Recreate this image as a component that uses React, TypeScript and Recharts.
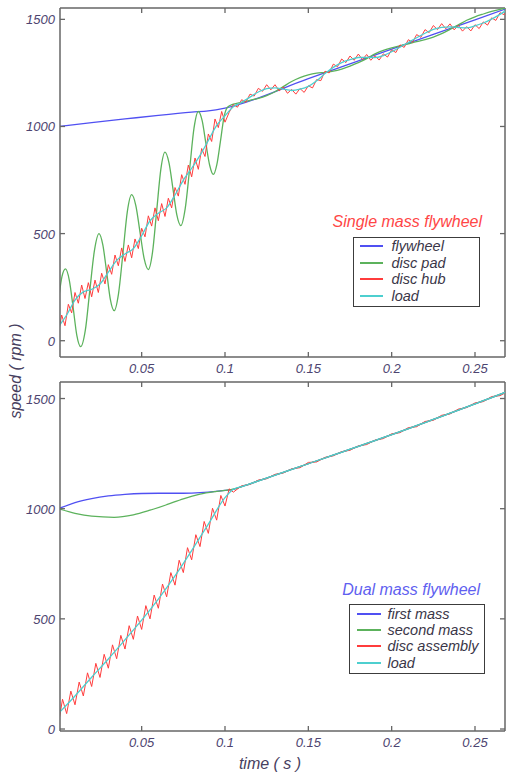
import React from 'react';
import { LineChart, Line, XAxis, YAxis, Legend, ReferenceLine, Label } from 'recharts';

// ---------- shared ticks / domains ----------
const X_TICKS = [0.05, 0.1, 0.15, 0.2, 0.25];
const Y_TICKS = [0, 500, 1000, 1500];
const X_DOMAIN = [0.001, 0.268];
const TOP_Y_DOMAIN = [-76, 1553];
const BOT_Y_DOMAIN = [-9, 1575];

// ---------- Single mass flywheel ----------
const topFlywheelT = [0, 0.02, 0.04, 0.06, 0.08, 0.09, 0.1, 0.15, 0.2, 0.25, 0.27];
const topFlywheelV = [1000, 1018, 1035, 1052, 1067, 1073, 1086, 1223, 1361, 1498, 1553];

const topPadT = [
  0, 0.0022, 0.0043, 0.0066, 0.0089, 0.0111, 0.0134, 0.0162, 0.0189, 0.0217, 0.0244,
  0.0267, 0.029, 0.0312, 0.0335, 0.0361, 0.0388, 0.0414, 0.044, 0.0465, 0.049, 0.0515,
  0.054, 0.0565, 0.059, 0.0615, 0.064, 0.0664, 0.0688, 0.0711, 0.0735, 0.0761, 0.0788,
  0.0814, 0.084, 0.0863, 0.0885, 0.0908, 0.093, 0.0951, 0.0973, 0.0994, 0.1015,
  0.105, 0.11, 0.115, 0.12, 0.125, 0.13, 0.135, 0.14, 0.145, 0.15, 0.155, 0.16, 0.165,
  0.17, 0.175, 0.18, 0.185, 0.19, 0.195, 0.2, 0.205, 0.21, 0.215, 0.22, 0.225, 0.23,
  0.235, 0.24, 0.245, 0.25, 0.255, 0.26, 0.265, 0.27,
];
const topPadV = [
  180, 300, 335, 282, 154, 25, -28, 49, 236, 423, 500,
  447, 320, 193, 140, 219, 411, 603, 682, 631, 507, 383,
  332, 412, 606, 800, 880, 830, 708, 587, 537, 615, 803,
  992, 1070, 1027, 923, 819, 776, 822, 933, 1044, 1090,
  1104, 1113, 1122, 1131, 1144, 1162, 1186, 1210, 1228, 1241, 1249, 1253, 1258,
  1268, 1282, 1298, 1317, 1339, 1355, 1367, 1376, 1386, 1396, 1405, 1417, 1433,
  1453, 1474, 1496, 1512, 1525, 1537, 1547, 1555,
];

const topHubT = [
  0, 0.002, 0.004, 0.006, 0.008, 0.01, 0.012, 0.014, 0.016, 0.018, 0.02,
  0.022, 0.024, 0.026, 0.028, 0.03, 0.032, 0.034, 0.036, 0.038, 0.04,
  0.042, 0.044, 0.046, 0.048, 0.05, 0.052, 0.054, 0.056, 0.058, 0.06,
  0.062, 0.064, 0.066, 0.068, 0.07, 0.072, 0.074, 0.076, 0.078, 0.08,
  0.082, 0.084, 0.086, 0.088, 0.09, 0.092, 0.094, 0.096, 0.098, 0.1,
  0.1025, 0.105, 0.1075, 0.11, 0.1125, 0.115, 0.1175, 0.12, 0.1225, 0.125,
  0.1275, 0.13, 0.1325, 0.135, 0.1375, 0.14, 0.1425, 0.145, 0.1475, 0.15,
  0.1525, 0.155, 0.1575, 0.16, 0.1625, 0.165, 0.1675, 0.17, 0.1725, 0.175,
  0.1775, 0.18, 0.1825, 0.185, 0.1875, 0.19, 0.1925, 0.195, 0.1975, 0.2,
  0.2025, 0.205, 0.2075, 0.21, 0.2125, 0.215, 0.2175, 0.22, 0.2225, 0.225,
  0.2275, 0.23, 0.2325, 0.235, 0.2375, 0.24, 0.2425, 0.245, 0.2475, 0.25,
  0.2525, 0.255, 0.2575, 0.26, 0.2625, 0.265, 0.2675, 0.27,
];
const topHubV = [
  30, 120, 70, 170, 130, 225, 175, 260, 197, 271, 205,
  283, 225, 315, 265, 355, 310, 400, 350, 433, 370,
  447, 387, 475, 430, 525, 485, 583, 535, 620, 560,
  640, 580, 665, 620, 715, 675, 775, 730, 820, 765,
  853, 800, 897, 860, 965, 930, 1035, 995, 1070, 1020,
  1066, 1102, 1090, 1125, 1113, 1151, 1142, 1178, 1164, 1195,
  1171, 1195, 1166, 1184, 1155, 1173, 1151, 1177, 1159, 1190,
  1180, 1219, 1214, 1258, 1250, 1291, 1279, 1315, 1298, 1329,
  1309, 1338, 1312, 1336, 1309, 1330, 1310, 1339, 1324, 1358,
  1345, 1381, 1369, 1405, 1393, 1429, 1416, 1452, 1438, 1471,
  1452, 1480, 1456, 1479, 1451, 1472, 1445, 1466, 1446, 1475,
  1457, 1488, 1473, 1507, 1495, 1531, 1522, 1548,
];

const topLoadT = [
  0, 0.005, 0.01, 0.015, 0.02, 0.025, 0.03, 0.035, 0.04, 0.045, 0.05,
  0.055, 0.06, 0.065, 0.07, 0.075, 0.08, 0.085, 0.09, 0.095, 0.1,
  0.105, 0.11, 0.115, 0.12, 0.125, 0.13, 0.135, 0.14, 0.145, 0.15,
  0.155, 0.16, 0.165, 0.17, 0.175, 0.18, 0.185, 0.19, 0.195, 0.2,
  0.205, 0.21, 0.215, 0.22, 0.225, 0.23, 0.235, 0.24, 0.245, 0.25,
  0.255, 0.26, 0.265, 0.27,
];
const topLoadV = [
  65, 120, 190, 228, 240, 265, 320, 375, 405, 430, 490,
  560, 595, 620, 680, 750, 805, 865, 935, 1005, 1050,
  1092, 1113, 1137, 1161, 1177, 1180, 1174, 1168, 1174, 1187,
  1213, 1247, 1276, 1298, 1312, 1322, 1323, 1321, 1331, 1349,
  1370, 1392, 1414, 1435, 1453, 1463, 1465, 1462, 1460, 1470,
  1483, 1501, 1523, 1549,
];

// ---------- Dual mass flywheel ----------
const botFirstT = [0, 0.01, 0.02, 0.03, 0.04, 0.05, 0.06, 0.07, 0.08, 0.09, 0.1, 0.105, 0.11, 0.12, 0.13, 0.14, 0.15, 0.2, 0.25, 0.27];
const botFirstV = [1000, 1028, 1046, 1058, 1065, 1069, 1070, 1070, 1071, 1075, 1083, 1088, 1100, 1126, 1152, 1178, 1204, 1336, 1476, 1533];

const botSecondT = [0, 0.01, 0.02, 0.0335, 0.045, 0.055, 0.065, 0.075, 0.085, 0.095, 0.105, 0.11, 0.12, 0.13, 0.14, 0.15, 0.2, 0.25, 0.27];
const botSecondV = [1000, 979, 966, 961, 972, 993, 1018, 1045, 1066, 1079, 1089, 1100, 1126, 1152, 1178, 1204, 1336, 1476, 1533];

const botDiscT = [
  0, 0.0025, 0.005, 0.0075, 0.01, 0.0125, 0.015, 0.0175, 0.02, 0.0225, 0.025,
  0.0275, 0.03, 0.0325, 0.035, 0.0375, 0.04, 0.0425, 0.045, 0.0475, 0.05,
  0.0525, 0.055, 0.0575, 0.06, 0.0625, 0.065, 0.0675, 0.07, 0.0725, 0.075,
  0.0775, 0.08, 0.0825, 0.085, 0.0875, 0.09, 0.0925, 0.095, 0.0975, 0.1,
  0.1025, 0.105,
  0.11, 0.115, 0.12, 0.125, 0.13, 0.135, 0.14, 0.145, 0.15, 0.155, 0.16, 0.165,
  0.17, 0.175, 0.18, 0.185, 0.19, 0.195, 0.2, 0.205, 0.21, 0.215, 0.22, 0.225,
  0.23, 0.235, 0.24, 0.245, 0.25, 0.255, 0.26, 0.265, 0.27,
];
const botDiscV = [
  20, 135, 70, 172, 110, 213, 150, 255, 193, 298, 234,
  339, 276, 382, 319, 425, 363, 469, 407, 513, 452,
  560, 500, 608, 548, 658, 600, 710, 653, 766, 710,
  823, 768, 882, 828, 942, 888, 1002, 948, 1060, 1012,
  1090, 1075,
  1104, 1110, 1130, 1136, 1156, 1162, 1181, 1186, 1210, 1212, 1233, 1240,
  1259, 1265, 1285, 1291, 1311, 1318, 1340, 1345, 1368, 1372, 1396, 1401,
  1424, 1430, 1452, 1459, 1480, 1486, 1509, 1513, 1533,
];

const botLoadT = [0, 0.01, 0.02, 0.03, 0.04, 0.05, 0.06, 0.07, 0.08, 0.09, 0.1, 0.105, 0.11, 0.12, 0.13, 0.14, 0.15, 0.2, 0.25, 0.27];
const botLoadV = [70, 150, 235, 318, 405, 494, 590, 695, 810, 930, 1050, 1088, 1100, 1126, 1152, 1178, 1204, 1336, 1476, 1533];

const topNames = ['flywheel', 'disc pad', 'disc hub', 'load'];
const botNames = ['first mass', 'second mass', 'disc assembly', 'load'];

// ---------- styles ----------
const FONT = '"Liberation Sans", Arial, Helvetica, sans-serif';
const TICK_COLOR = '#4d4470';
const FRAME = '#666666';
const C_BLUE = '#5050f2';
const C_GREEN = '#5cb25c';
const C_RED = '#ff3c3c';
const C_CYAN = '#4dcfcf';
const SERIES_COLORS = [C_BLUE, C_GREEN, C_RED, C_CYAN];
const PLOT_RIGHT = 505;

const zip = (ts: number[], vs: number[]) => ts.map((t, i) => ({ t, v: vs[i] }));

const makeXTick = (plotTop: number) => (props: any) => {
  const { x, y, payload } = props;
  return (
    <g>
      <line x1={x} x2={x} y1={y} y2={y - 5} stroke={FRAME} strokeWidth={1.3} />
      <line x1={x} x2={x} y1={plotTop} y2={plotTop + 5} stroke={FRAME} strokeWidth={1.3} />
      <text
        x={x}
        y={y + 11.5}
        textAnchor="middle"
        dominantBaseline="central"
        fontFamily={FONT}
        fontStyle="italic"
        fontSize={13}
        fill={TICK_COLOR}
      >
        {String(payload.value)}
      </text>
    </g>
  );
};

const YTick = (props: any) => {
  const { x, y, payload } = props;
  return (
    <g>
      <line x1={x} x2={x + 5} y1={y} y2={y} stroke={FRAME} strokeWidth={1.3} />
      <line x1={PLOT_RIGHT} x2={PLOT_RIGHT - 5} y1={y} y2={y} stroke={FRAME} strokeWidth={1.3} />
      <text
        x={x - 5}
        y={y + 0.5}
        textAnchor="end"
        dominantBaseline="central"
        fontFamily={FONT}
        fontStyle="italic"
        fontSize={13}
        fill={TICK_COLOR}
      >
        {String(payload.value)}
      </text>
    </g>
  );
};

const SpeedLabel = () => (
  <text
    x={15}
    y={371}
    transform="rotate(-90 15 371)"
    textAnchor="middle"
    dominantBaseline="central"
    fontFamily={FONT}
    fontStyle="italic"
    fontSize={16}
    fill="#47405e"
  >
    speed ( rpm )
  </text>
);

const TimeLabel = () => (
  <text
    x={270}
    y={393}
    textAnchor="middle"
    dominantBaseline="central"
    fontFamily={FONT}
    fontStyle="italic"
    fontSize={16}
    fill="#47405e"
  >
    time ( s )
  </text>
);

type LegendOpts = {
  title: string;
  titleColor: string;
  names: string[];
  titlePadRight: number;
  boxLeft: number;
  boxWidth: number;
  boxGap: number;
  padTop: number;
  rowH: number;
  sampleLeft: number;
  sampleW: number;
  sampleGap: number;
};

const makeLegend = (o: LegendOpts) => (_props: any) => {
  return (
    <div style={{ fontFamily: FONT, fontStyle: 'italic' }}>
      <div
        style={{
          textAlign: 'right',
          color: o.titleColor,
          fontSize: 16,
          height: 20,
          lineHeight: '20px',
          paddingRight: o.titlePadRight,
          whiteSpace: 'nowrap',
        }}
      >
        {o.title}
      </div>
      <div
        style={{
          marginTop: o.boxGap,
          marginLeft: o.boxLeft,
          width: o.boxWidth,
          height: 70,
          boxSizing: 'border-box',
          border: '1.5px solid #3c3c3c',
          background: '#ffffff',
          paddingTop: o.padTop,
        }}
      >
        {o.names.map((name, i) => (
          <div
            key={name}
            style={{ display: 'flex', alignItems: 'center', height: o.rowH, whiteSpace: 'nowrap' }}
          >
            <svg
              width={o.sampleW}
              height={4}
              style={{ display: 'block', marginLeft: o.sampleLeft, marginRight: o.sampleGap }}
            >
              <line x1={0} x2={o.sampleW} y1={2} y2={2} stroke={SERIES_COLORS[i]} strokeWidth={2} />
            </svg>
            <span style={{ color: '#3a3648', fontSize: 14.5, lineHeight: '16px' }}>{name}</span>
          </div>
        ))}
      </div>
    </div>
  );
};

const topLegend = makeLegend({
  title: 'Single mass flywheel',
  titleColor: '#ff4646',
  names: topNames,
  titlePadRight: 3,
  boxLeft: 23,
  boxWidth: 127,
  boxGap: 5,
  padTop: 0,
  rowH: 16.5,
  sampleLeft: 5.5,
  sampleW: 23,
  sampleGap: 9,
});

const botLegend = makeLegend({
  title: 'Dual mass flywheel',
  titleColor: '#5f5ff0',
  names: botNames,
  titlePadRight: 8,
  boxLeft: 9,
  boxWidth: 136,
  boxGap: 4,
  padTop: 0.5,
  rowH: 16.4,
  sampleLeft: 6.5,
  sampleW: 24,
  sampleGap: 7,
});

export default function App() {
  return (
    <div style={{ position: 'absolute', left: 0, top: 0, width: 506, height: 774, background: '#fff' }}>
      <div style={{ position: 'absolute', left: 0, top: 0 }}>
        <LineChart width={506} height={430} margin={{ top: 8, right: 1, bottom: 60, left: 0 }}>
          <XAxis
            dataKey="t"
            type="number"
            domain={X_DOMAIN}
            allowDataOverflow
            ticks={X_TICKS}
            interval={0}
            height={13}
            tickSize={0}
            tickMargin={0}
            tickLine={false}
            tick={makeXTick(8)}
            axisLine={{ stroke: FRAME, strokeWidth: 1.5 }}
          />
          <YAxis
            type="number"
            domain={TOP_Y_DOMAIN}
            allowDataOverflow
            ticks={Y_TICKS}
            interval={0}
            width={60}
            tickSize={0}
            tickMargin={0}
            tickLine={false}
            tick={YTick}
            axisLine={{ stroke: FRAME, strokeWidth: 1.5 }}
          >
            <Label content={SpeedLabel} />
          </YAxis>
          <ReferenceLine y={TOP_Y_DOMAIN[1]} stroke={FRAME} strokeWidth={1.5} />
          <ReferenceLine x={X_DOMAIN[1]} stroke={FRAME} strokeWidth={1.5} />
          <Line data={zip(topFlywheelT, topFlywheelV)} dataKey="v" name={topNames[0]} type="monotone" stroke={C_BLUE} strokeWidth={1.3} dot={false} isAnimationActive={false} />
          <Line data={zip(topPadT, topPadV)} dataKey="v" name={topNames[1]} type="monotone" stroke={C_GREEN} strokeWidth={1.3} dot={false} isAnimationActive={false} />
          <Line data={zip(topHubT, topHubV)} dataKey="v" name={topNames[2]} type="linear" stroke={C_RED} strokeWidth={1} dot={false} isAnimationActive={false} />
          <Line data={zip(topLoadT, topLoadV)} dataKey="v" name={topNames[3]} type="monotone" stroke={C_CYAN} strokeWidth={1.3} dot={false} isAnimationActive={false} />
          <Legend
            content={topLegend}
            layout="vertical"
            align="center"
            verticalAlign="middle"
            width={155}
            wrapperStyle={{ left: 330, top: 212, width: 155 }}
          />
        </LineChart>
      </div>
      <div style={{ position: 'absolute', left: 0, top: 370 }}>
        <LineChart width={506} height={404} margin={{ top: 12, right: 1, bottom: 0, left: 0 }}>
          <XAxis
            dataKey="t"
            type="number"
            domain={X_DOMAIN}
            allowDataOverflow
            ticks={X_TICKS}
            interval={0}
            height={43}
            tickSize={0}
            tickMargin={0}
            tickLine={false}
            tick={makeXTick(12)}
            axisLine={{ stroke: FRAME, strokeWidth: 1.5 }}
          >
            <Label content={TimeLabel} />
          </XAxis>
          <YAxis
            type="number"
            domain={BOT_Y_DOMAIN}
            allowDataOverflow
            ticks={Y_TICKS}
            interval={0}
            width={60}
            tickSize={0}
            tickMargin={0}
            tickLine={false}
            tick={YTick}
            axisLine={{ stroke: FRAME, strokeWidth: 1.5 }}
          />
          <ReferenceLine y={BOT_Y_DOMAIN[1]} stroke={FRAME} strokeWidth={1.5} />
          <ReferenceLine x={X_DOMAIN[1]} stroke={FRAME} strokeWidth={1.5} />
          <Line data={zip(botFirstT, botFirstV)} dataKey="v" name={botNames[0]} type="monotone" stroke={C_BLUE} strokeWidth={1.3} dot={false} isAnimationActive={false} />
          <Line data={zip(botSecondT, botSecondV)} dataKey="v" name={botNames[1]} type="monotone" stroke={C_GREEN} strokeWidth={1.3} dot={false} isAnimationActive={false} />
          <Line data={zip(botDiscT, botDiscV)} dataKey="v" name={botNames[2]} type="linear" stroke={C_RED} strokeWidth={1} dot={false} isAnimationActive={false} />
          <Line data={zip(botLoadT, botLoadV)} dataKey="v" name={botNames[3]} type="monotone" stroke={C_CYAN} strokeWidth={1.3} dot={false} isAnimationActive={false} />
          <Legend
            content={botLegend}
            layout="vertical"
            align="center"
            verticalAlign="middle"
            width={148}
            wrapperStyle={{ left: 340, top: 210, width: 148 }}
          />
        </LineChart>
      </div>
    </div>
  );
}
